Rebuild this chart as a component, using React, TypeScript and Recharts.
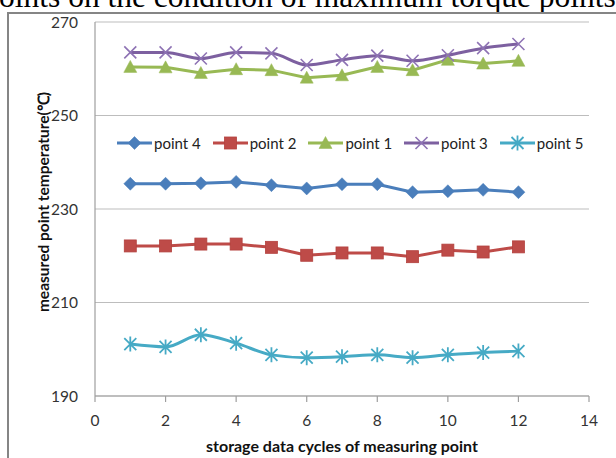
import React from 'react';
import { LineChart, Line, XAxis, YAxis, CartesianGrid, Label } from 'recharts';

const cycles = [1, 2, 3, 4, 5, 6, 7, 8, 9, 10, 11, 12];
const point4 = [235.4, 235.4, 235.5, 235.8, 235.1, 234.4, 235.3, 235.3, 233.6, 233.8, 234.1, 233.6];
const point2 = [222.1, 222.1, 222.5, 222.5, 221.8, 220.1, 220.6, 220.6, 219.8, 221.2, 220.8, 221.9];
const point1 = [260.4, 260.3, 259.1, 259.9, 259.7, 258.1, 258.6, 260.4, 259.7, 261.9, 261.1, 261.7];
const point3 = [263.5, 263.5, 262.2, 263.5, 263.3, 260.8, 261.9, 262.8, 261.7, 262.9, 264.4, 265.3];
const point5 = [201.1, 200.5, 203.1, 201.3, 198.8, 198.2, 198.4, 198.8, 198.2, 198.8, 199.3, 199.6];

const xTicks = [0, 2, 4, 6, 8, 10, 12, 14];
const yTicks = [190, 210, 230, 250, 270];

const seriesNames = ['point 4', 'point 2', 'point 1', 'point 3', 'point 5'];
const seriesKeys = ['point4', 'point2', 'point1', 'point3', 'point5'];
const seriesColors = ['#4A7EBB', '#BE4B48', '#98B954', '#7D60A0', '#46AAC5'];
const seriesCurves = ['linear', 'linear', 'linear', 'monotone', 'monotone'];

const titleText = 'oints on the condition of maximum torque points';
const xTitle = 'storage data cycles of measuring point';
const yTitle = 'measured point temperature(℃)';

const data = cycles.map((c, i) => ({
  cycle: c,
  point4: point4[i],
  point2: point2[i],
  point1: point1[i],
  point3: point3[i],
  point5: point5[i],
}));

const FONT = 'Lato, "Open Sans", sans-serif';

function markerShape(kind: string, cx: number, cy: number, color: string, key?: any) {
  const s = 6.5;
  if (kind === 'point4') {
    return <path key={key} d={`M${cx} ${cy - s}L${cx + s} ${cy}L${cx} ${cy + s}L${cx - s} ${cy}Z`} fill={color} stroke={color} strokeWidth={0.5} />;
  }
  if (kind === 'point2') {
    return <rect key={key} x={cx - 6} y={cy - 6} width={12} height={12} fill={color} stroke="#B3413E" strokeWidth={0.8} />;
  }
  if (kind === 'point1') {
    return <path key={key} d={`M${cx} ${cy - 6.5}L${cx + 6.5} ${cy + 5.5}L${cx - 6.5} ${cy + 5.5}Z`} fill={color} stroke={color} strokeWidth={0.5} />;
  }
  if (kind === 'point3') {
    return (
      <g key={key}>
        <path d={`M${cx - 6} ${cy - 6}L${cx + 6} ${cy + 6}M${cx - 6} ${cy + 6}L${cx + 6} ${cy - 6}`} stroke="#8E73B4" strokeWidth={1.6} />
      </g>
    );
  }
  return (
    <g key={key}>
      <path d={`M${cx - 6} ${cy - 6}L${cx + 6} ${cy + 6}M${cx - 6} ${cy + 6}L${cx + 6} ${cy - 6}M${cx} ${cy - 7.5}L${cx} ${cy + 7.5}`} stroke={color} strokeWidth={1.8} />
    </g>
  );
}

const makeDot = (kind: string, color: string) => (props: any) => {
  const { cx, cy, index } = props;
  if (cx == null || cy == null) return <g key={`n${index}`} />;
  return markerShape(kind, cx, cy, color, `${kind}-${index}`);
};

const LegendBox = () => (
  <div style={{ position: 'absolute', left: 117, top: 134, display: 'flex', alignItems: 'center', fontFamily: FONT, fontSize: 15, color: '#222' }}>
    {seriesKeys.map((k, i) => (
      <div key={k} style={{ display: 'flex', alignItems: 'center', marginRight: 12 }}>
        <svg width={35} height={18} style={{ marginRight: 2 }}>
          <line x1={0} y1={9} x2={35} y2={9} stroke={seriesColors[i]} strokeWidth={3} />
          {markerShape(k, 17.5, 9, seriesColors[i])}
        </svg>
        <span style={{ whiteSpace: 'nowrap' }}>{seriesNames[i]}</span>
      </div>
    ))}
  </div>
);

export default function App() {
  return (
    <div style={{ position: 'fixed', left: 0, top: 0, width: 616, height: 458, overflow: 'hidden', background: '#fff' }}>
      <svg width={616} height={20} style={{ position: 'absolute', left: 0, top: 0 }}>
        <text x={-1} y={7} fontFamily='"Liberation Serif", serif' fontSize={31.5} fill="#000">{titleText}</text>
      </svg>
      <div style={{ position: 'absolute', left: 7, top: 12, width: 700, height: 500, borderTop: '2px solid #858585', borderLeft: '2px solid #858585' }} />
      <div style={{ position: 'absolute', left: 0, top: 0 }}>
        <LineChart width={616} height={458} data={data} margin={{ top: 22, right: 27, bottom: 32, left: 0 }}>
          <CartesianGrid vertical={false} stroke="#BDBDBD" strokeWidth={1.2} />
          <XAxis
            dataKey="cycle"
            type="number"
            domain={[0, 14]}
            ticks={xTicks}
            height={30}
            tickSize={6}
            tickMargin={13}
            stroke="#9E9E9E"
            strokeWidth={1.2}
            tick={{ fontFamily: FONT, fontSize: 15.5, fill: '#333' }}
            interval={0}
          >
            <Label
              position="bottom"
              offset={15}
              value={xTitle}
              style={{ fontFamily: FONT, fontSize: 16, fontWeight: 700, fill: '#111' }}
            />
          </XAxis>
          <YAxis
            type="number"
            domain={[190, 270]}
            ticks={yTicks}
            width={95}
            tickLine={false}
            tickSize={6}
            tickMargin={11}
            stroke="#9E9E9E"
            strokeWidth={1.2}
            tick={{ fontFamily: FONT, fontSize: 15.5, fill: '#333' }}
            interval={0}
          >
            <Label
              content={(p: any) => {
                const vb = p.viewBox || {};
                const cy = (vb.y || 0) + (vb.height || 0) / 2 - 7;
                return (
                  <text transform={`translate(49, ${cy}) rotate(-90)`} textAnchor="middle" fontFamily={FONT} fontSize={15.5} fontWeight={700} fill="#111">
                    {yTitle}
                  </text>
                );
              }}
            />
          </YAxis>
          {seriesKeys.map((k, i) => (
            <Line
              key={k}
              dataKey={k}
              name={seriesNames[i]}
              type={seriesCurves[i] as any}
              stroke={seriesColors[i]}
              strokeWidth={3}
              dot={makeDot(k, seriesColors[i])}
              activeDot={false}
              isAnimationActive={false}
            />
          ))}
        </LineChart>
      </div>
      <LegendBox />
    </div>
  );
}
